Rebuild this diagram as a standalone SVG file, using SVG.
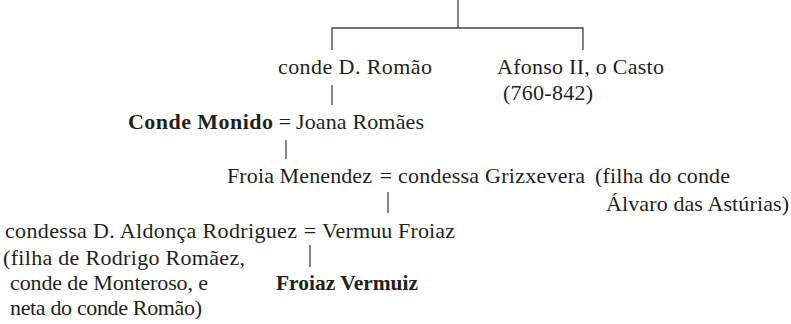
<svg xmlns="http://www.w3.org/2000/svg" width="791" height="324" viewBox="0 0 791 324">
<style>
text{font-family:"Liberation Serif","Times New Roman",serif;font-size:22px;fill:#231f20}
.b{font-weight:bold}
.m{text-anchor:middle}
.c{stroke:#444;stroke-width:1.3;fill:none}
</style>
<rect width="791" height="324" fill="#fff"/>
<g id="connectors">
<path class="c" d="M458,0V28M332,50V28H583V50"/>
<path class="c" d="M332,85V105"/>
<path class="c" d="M286,140V159"/>
<path class="c" d="M388,192V213"/>
<path class="c" d="M310,245V267"/>
</g>
<g id="romao"><text x="278" y="74" textLength="154">conde D. Romão</text></g>
<g id="afonso"><text x="497" y="74" textLength="167">Afonso II, o Casto</text><text x="503" y="100" textLength="90">(760-842)</text></g>
<g id="monido"><text class="b" x="128" y="129" textLength="145">Conde Monido</text><text class="m" x="285" y="129">=</text><text x="296" y="129" textLength="128">Joana Romães</text></g>
<g id="froia"><text x="227" y="183" textLength="145">Froia Menendez</text><text class="m" x="386" y="183">=</text><text x="398" y="183" textLength="187">condessa Grizxevera</text><text x="595" y="183" textLength="135">(filha do conde</text><text x="606" y="211" textLength="183">Álvaro das Astúrias)</text></g>
<g id="vermuu"><text x="5" y="238" textLength="292">condessa D. Aldonça Rodriguez</text><text class="m" x="310" y="238">=</text><text x="322" y="238" textLength="133">Vermuu Froiaz</text><text x="3" y="265" textLength="242">(filha de Rodrigo Romãez,</text><text x="10" y="290" textLength="198">conde de Monteroso, e</text><text x="10" y="315" textLength="192">neta do conde Romão)</text></g>
<g id="froiaz"><text class="b" x="276" y="290" textLength="142" lengthAdjust="spacingAndGlyphs">Froiaz Vermuiz</text></g>
</svg>
